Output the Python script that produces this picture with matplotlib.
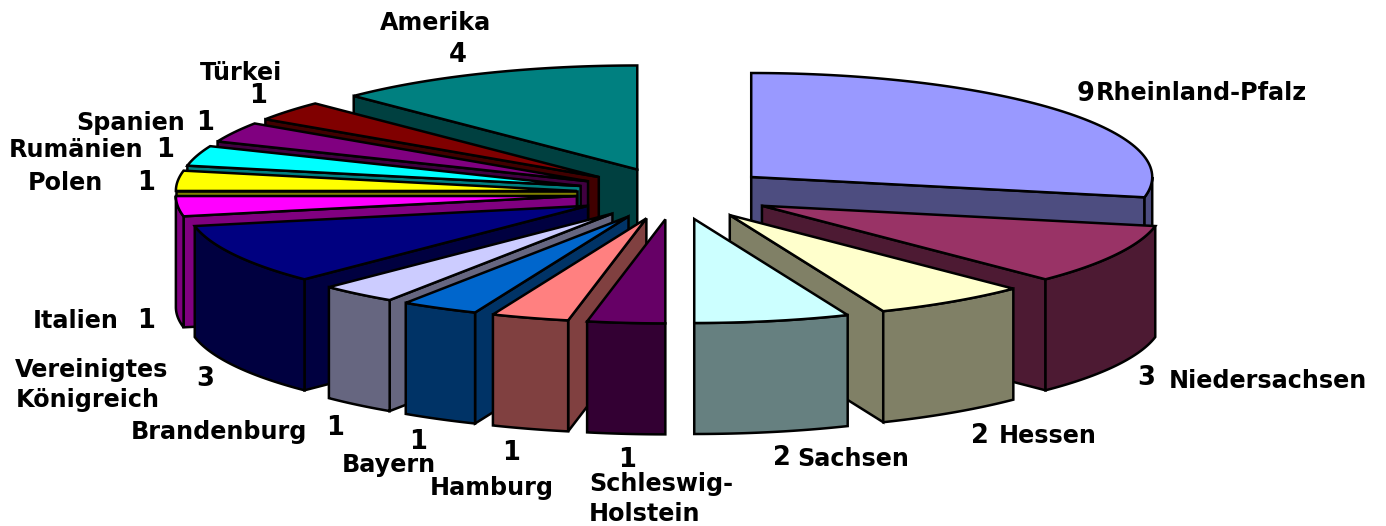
import numpy as np
import matplotlib
matplotlib.use('Agg')
import matplotlib.pyplot as plt
from matplotlib.colors import to_rgb

# slices clockwise from 12 o'clock
regions = ['Rheinland-Pfalz', 'Niedersachsen', 'Hessen', 'Sachsen', 'Schleswig-\nHolstein',
           'Hamburg', 'Bayern', 'Brandenburg', 'Vereinigtes\nKönigreich', 'Italien',
           'Polen', 'Rumänien', 'Spanien', 'Türkei', 'Amerika']
counts = [9, 3, 2, 2, 1, 1, 1, 1, 3, 1, 1, 1, 1, 1, 4]
colors = ['#9999FF', '#993366', '#FFFFCC', '#CCFFFF', '#660066',
          '#FF8080', '#0066CC', '#CCCCFF', '#000080', '#FF00FF',
          '#FFFF00', '#00FFFF', '#800080', '#800000', '#008080']

# label placement in pixels, same order as regions
name_pos = [(1201, 93), (1268, 381), (1048, 436), (853, 459), (661, 499),
            (492, 488), (389, 465), (219, 432), (92, 385), (76, 321),
            (65, 183), (76, 150), (131, 123), (241, 73), (436, 23)]
count_pos = [(1086, 94), (1146, 378), (980, 436), (782, 458), (627, 460),
             (511, 453), (418, 442), (335, 428), (205, 379), (146, 321),
             (146, 183), (165, 150), (205, 123), (258, 96), (458, 55)]

# pie geometry in pixels
cx, cy = 675, 193.5
rx, ry = 401, 104
ex, ey = 98.6, 26
depth = 111
lw = 1.8


def px(ang, ox):
    return ox + rx * np.sin(ang)


def py(ang, oy):
    return oy - ry * np.cos(ang)


fig = plt.figure(figsize=(13.86, 5.26), dpi=100)
ax = fig.add_axes([0, 0, 1, 1])
ax.set_xlim(0, 1386)
ax.set_ylim(526, 0)
ax.axis('off')

edges = np.cumsum([0] + counts) / sum(counts) * 2 * np.pi
mids = (edges[:-1] + edges[1:]) / 2


def poly(x, y, color, z):
    ax.fill(x, y, facecolor=color, edgecolor='black', linewidth=lw, joinstyle='miter', zorder=z)


# back to front so nearer slices cover the ones behind
order = sorted(range(len(counts)), key=lambda i: -abs(mids[i] - np.pi))
for z, i in enumerate(order):
    a1, a2 = edges[i], edges[i + 1]
    ox = cx + ex * np.sin(mids[i])
    oy = cy - ey * np.cos(mids[i])
    top = np.array(to_rgb(colors[i]))
    side = tuple(top * 0.5)
    base = z * 10

    # cut walls that face the viewer
    for a, show in ((a1, np.sin(a1) < -1e-6), (a2, np.sin(a2) > 1e-6)):
        if show:
            wx, wy = px(a, ox), py(a, oy)
            poly([ox, wx, wx, ox], [oy, wy, wy + depth, oy + depth], side, base)

    # rim wall, front half of the ellipse only
    lo, hi = max(a1, np.pi / 2), min(a2, 3 * np.pi / 2)
    if hi > lo:
        t = np.linspace(lo, hi, 60)
        xs, ys = px(t, ox), py(t, oy)
        poly(np.r_[xs, xs[::-1]], np.r_[ys, ys[::-1] + depth], side, base + 1)

    t = np.linspace(a1, a2, 80)
    poly(np.r_[ox, px(t, ox)], np.r_[oy, py(t, oy)], tuple(top), base + 2)

for name, n, (nx, ny), (vx, vy) in zip(regions, counts, name_pos, count_pos):
    ax.text(nx, ny, name, fontsize=17.2, fontweight='bold', family='DejaVu Sans',
            ha='center', va='center', linespacing=1.28, zorder=1000, multialignment='left')
    ax.text(vx, vy, str(n), fontsize=18.5, fontweight='bold', family='DejaVu Sans',
            ha='center', va='center', zorder=1000)

fig.savefig('out.png', dpi=100)
